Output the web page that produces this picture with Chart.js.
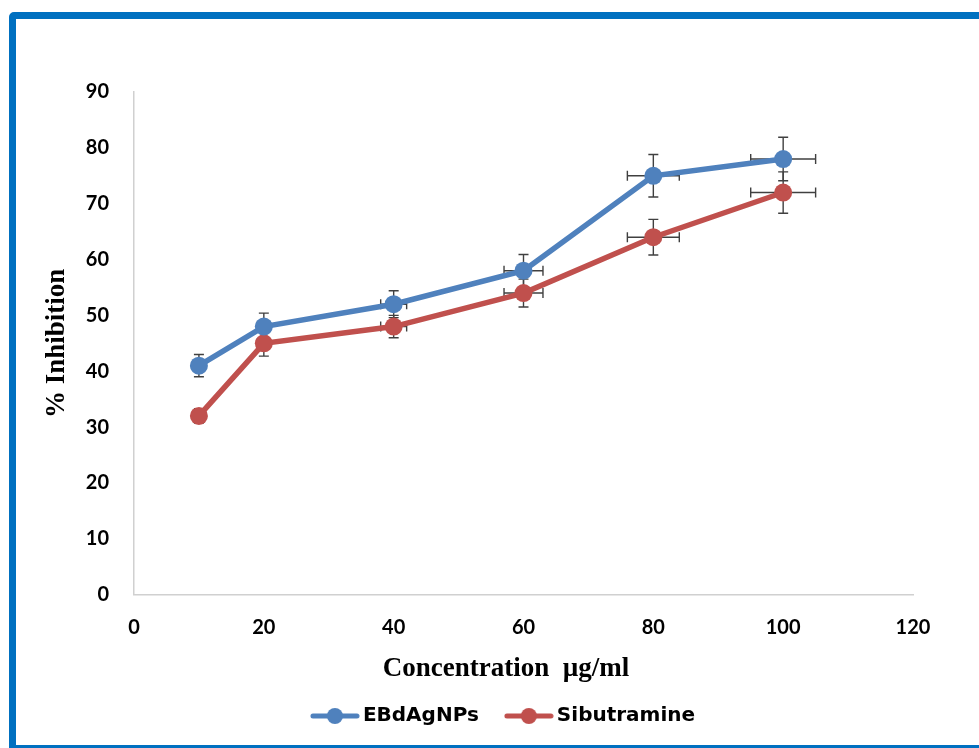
<!DOCTYPE html>
<html>
<head>
<meta charset="utf-8">
<script src="https://cdn.jsdelivr.net/npm/chart.js@4.4.1/dist/chart.umd.min.js"></script>
<style>
  html, body { margin: 0; padding: 0; background: #fff; overflow: hidden; }
  body { width: 979px; height: 748px; position: relative; }
  #frame {
    position: absolute; left: 9px; top: 12px; width: 1000px; height: 740px;
    box-sizing: border-box; border: 7px solid #0070C0; border-radius: 5px;
  }
  #wrap { position: absolute; left: 0; top: 0; width: 979px; height: 748px; }
</style>
</head>
<body>
<div id="frame"></div>
<div id="wrap"><canvas id="chart" width="979" height="748"></canvas></div>
<script>
// Concentration (µg/ml) and % inhibition for each treatment
const concentrations = [10, 20, 40, 60, 80, 100];
const concentrationErr = [0.5, 1, 2, 3, 4, 5];
const ebdAgNPs = [41, 48, 52, 58, 75, 78];
const ebdAgNPsErr = [2.0, 2.4, 2.4, 2.9, 3.8, 3.9];
const sibutramine = [32, 45, 48, 54, 64, 72];
const sibutramineErr = [1.3, 2.3, 2.0, 2.5, 3.2, 3.7];
const xTicks = [0, 20, 40, 60, 80, 100, 120];
const yTicks = [0, 10, 20, 30, 40, 50, 60, 70, 80, 90];

const BLUE = '#4F81BD';
const RED = '#C0504D';
const tickFont = { family: 'Lato', size: 20, weight: 'bold' };
const titleFont = { family: '"Liberation Serif"', size: 27, weight: 'bold' };
const legendFont = { family: '"DejaVu Sans"', size: 20, weight: 'bold' };

function points(ys) {
  return concentrations.map((x, i) => ({ x: x, y: ys[i] }));
}

// Legend symbol: a short line with a round marker on it
function legendSymbol(color) {
  const c = document.createElement('canvas');
  c.width = 50; c.height = 20;
  const g = c.getContext('2d');
  g.strokeStyle = color; g.lineWidth = 5; g.lineCap = 'round';
  g.beginPath(); g.moveTo(3, 10); g.lineTo(47, 10); g.stroke();
  g.fillStyle = color;
  g.beginPath(); g.arc(25, 10, 8, 0, Math.PI * 2); g.fill();
  return c;
}

// Horizontal and vertical error bars with caps
const errorBars = {
  id: 'errorBars',
  beforeDatasetsDraw(chart) {
    const { ctx, scales: { x, y } } = chart;
    ctx.save();
    ctx.strokeStyle = '#404040';
    ctx.lineWidth = 1.4;
    const cap = 5;
    chart.data.datasets.forEach((ds) => {
      ds.data.forEach((p, i) => {
        const px = x.getPixelForValue(p.x);
        const py = y.getPixelForValue(p.y);
        const ey = ds.errY[i], ex = ds.errX[i];
        const yTop = y.getPixelForValue(p.y + ey);
        const yBot = y.getPixelForValue(p.y - ey);
        const xL = x.getPixelForValue(p.x - ex);
        const xR = x.getPixelForValue(p.x + ex);
        ctx.beginPath();
        ctx.moveTo(px, yTop); ctx.lineTo(px, yBot);
        ctx.moveTo(px - cap, yTop); ctx.lineTo(px + cap, yTop);
        ctx.moveTo(px - cap, yBot); ctx.lineTo(px + cap, yBot);
        ctx.moveTo(xL, py); ctx.lineTo(xR, py);
        ctx.moveTo(xL, py - cap); ctx.lineTo(xL, py + cap);
        ctx.moveTo(xR, py - cap); ctx.lineTo(xR, py + cap);
        ctx.stroke();
      });
    });
    ctx.restore();
  }
};

const symbols = { EBdAgNPs: legendSymbol(BLUE), Sibutramine: legendSymbol(RED) };

new Chart(document.getElementById('chart'), {
  type: 'scatter',
  data: {
    datasets: [
      {
        label: 'EBdAgNPs', data: points(ebdAgNPs), errY: ebdAgNPsErr, errX: concentrationErr,
        showLine: true, borderColor: BLUE, backgroundColor: BLUE, borderWidth: 5.5,
        pointRadius: 9, pointHoverRadius: 9, pointBorderWidth: 0
      },
      {
        label: 'Sibutramine', data: points(sibutramine), errY: sibutramineErr, errX: concentrationErr,
        showLine: true, borderColor: RED, backgroundColor: RED, borderWidth: 5.5,
        pointRadius: 9, pointHoverRadius: 9, pointBorderWidth: 0
      }
    ]
  },
  options: {
    responsive: false,
    animation: false,
    events: [],
    layout: { padding: { left: 33, right: 0, top: 92, bottom: 12 } },
    scales: {
      x: {
        type: 'linear', min: 0, max: 120,
        afterBuildTicks: (s) => { s.ticks = xTicks.map(v => ({ value: v })); },
        afterFit: (s) => { s.height = 58; s.paddingRight = 66; },
        grid: { display: false, drawTicks: false },
        border: { display: true, color: '#D0D0D0', width: 1.5 },
        ticks: { color: '#000', font: tickFont, padding: 21, maxRotation: 0 }
      },
      y: {
        type: 'linear', min: 0, max: 90,
        afterBuildTicks: (s) => { s.ticks = yTicks.map(v => ({ value: v })); },
        afterFit: (s) => { s.width = 101; },
        grid: { display: false, drawTicks: false },
        border: { display: true, color: '#D0D0D0', width: 1.5 },
        ticks: { color: '#000', font: tickFont, padding: 25 },
        title: { display: true, text: '% Inhibition', color: '#000', font: titleFont, padding: { top: 8, bottom: 0 } }
      }
    },
    plugins: {
      tooltip: { enabled: false },
      title: {
        display: true, position: 'bottom', weight: 500, text: 'Concentration  µg/ml',
        color: '#000', font: titleFont, padding: { top: 0, bottom: -11 }
      },
      legend: {
        position: 'bottom', weight: 1000,
        labels: {
          color: '#000', font: legendFont,
          usePointStyle: true, pointStyleWidth: 36, padding: 32,
          generateLabels: (chart) => chart.data.datasets.map((ds, i) => ({
            text: ds.label, pointStyle: symbols[ds.label], datasetIndex: i,
            fillStyle: ds.borderColor, strokeStyle: ds.borderColor, lineWidth: 0, hidden: false, rotation: 0
          }))
        }
      }
    }
  },
  plugins: [errorBars]
});
</script>
</body>
</html>
